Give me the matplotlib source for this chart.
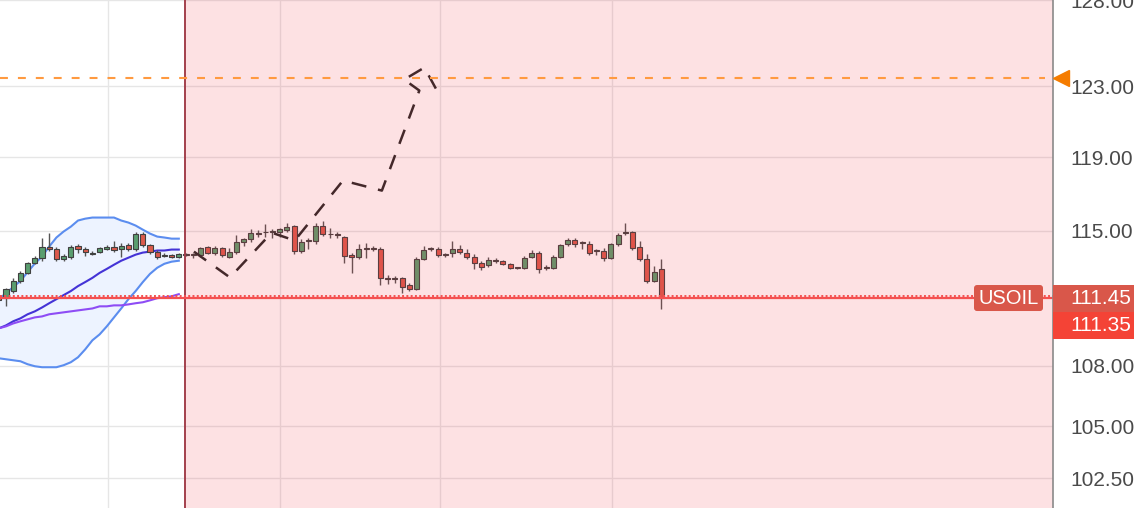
import numpy as np
import matplotlib
matplotlib.use('Agg')
import matplotlib.pyplot as plt
from matplotlib.patches import Rectangle, FancyBboxPatch
from matplotlib.transforms import IdentityTransform, blended_transform_factory, offset_copy
import matplotlib.ticker as mticker

plt.rcParams['font.family'] = ['Liberation Sans', 'DejaVu Sans']

# ---------------- data ----------------
opens = [111.52, 111.47, 111.83, 112.36, 112.78, 113.30, 113.56, 114.15, 114.04, 113.51,
         113.61, 114.20, 114.04, 113.77, 113.88, 114.04, 114.15, 114.04, 114.25, 114.04,
         114.84, 114.25, 113.88, 113.67, 113.72, 113.61, 113.77, 113.77, 113.72, 114.15,
         113.83, 114.09, 113.61, 113.88, 114.41, 114.57, 114.89, 114.92, 114.97, 114.95,
         115.05, 115.27, 113.93, 114.47, 114.47, 115.27, 114.81, 114.81, 114.68, 113.72,
         113.61, 114.04, 114.09, 114.04, 112.49, 112.44, 112.47, 112.15, 111.94, 113.51,
         114.01, 114.04, 113.69, 113.83, 114.04, 113.83, 113.61, 113.30, 113.19, 113.46,
         113.40, 113.25, 113.06, 113.04, 113.61, 113.83, 113.04, 113.04, 113.61, 114.31,
         114.52, 114.36, 114.31, 113.91, 113.93, 113.56, 114.31, 114.89, 114.95, 114.15,
         113.51, 112.36, 112.99]
highs = [111.62, 111.99, 112.47, 112.88, 113.35, 113.67, 114.63, 114.89, 114.15, 113.77,
         114.25, 114.31, 114.15, 113.93, 114.15, 114.25, 114.47, 114.36, 114.36, 114.95,
         114.95, 114.31, 113.99, 113.83, 113.77, 113.83, 113.83, 113.83, 114.15, 114.20,
         114.20, 114.15, 114.09, 114.79, 114.63, 115.11, 115.05, 115.375, 115.11, 115.16,
         115.43, 115.32, 114.57, 114.63, 115.43, 115.535, 115.16, 114.95, 114.73, 113.83,
         114.31, 114.36, 114.20, 114.15, 112.67, 112.62, 112.57, 112.25, 113.61, 114.20,
         114.15, 114.15, 113.83, 114.47, 114.25, 114.04, 113.77, 113.40, 113.61, 113.56,
         113.46, 113.30, 113.09, 113.67, 113.99, 113.93, 113.19, 113.72, 114.31, 114.63,
         114.63, 114.47, 114.47, 114.04, 114.09, 114.36, 114.89, 115.43, 115.00, 114.47,
         113.77, 113.14, 113.51]
lows = [111.26, 111.06, 111.73, 112.25, 112.72, 113.25, 113.40, 113.93, 113.40, 113.40,
        113.51, 113.83, 113.67, 113.72, 113.83, 113.99, 113.88, 113.61, 113.93, 113.93,
        114.15, 113.77, 113.51, 113.61, 113.56, 113.56, 113.67, 113.56, 113.61, 113.77,
        113.72, 113.61, 113.56, 113.77, 114.20, 114.41, 114.68, 114.68, 114.63, 114.68,
        114.95, 113.77, 113.83, 114.04, 114.31, 114.73, 114.63, 114.63, 113.30, 112.78,
        113.51, 113.56, 113.93, 112.15, 112.20, 112.25, 111.73, 111.83, 111.89, 113.46,
        113.93, 113.61, 113.61, 113.61, 113.77, 113.51, 112.99, 112.93, 113.09, 113.30,
        113.19, 112.99, 112.99, 112.99, 113.56, 112.78, 112.93, 112.99, 113.56, 114.20,
        114.15, 114.04, 113.72, 113.72, 113.40, 113.51, 114.20, 114.79, 113.99, 113.40,
        112.25, 112.30, 110.90]
closes = [111.37, 111.94, 112.36, 112.78, 113.30, 113.56, 114.15, 114.04, 113.51, 113.67,
          114.15, 114.04, 113.88, 113.83, 114.09, 114.15, 113.99, 114.20, 114.04, 114.84,
          114.25, 113.88, 113.61, 113.72, 113.61, 113.77, 113.72, 113.72, 114.09, 113.83,
          114.09, 113.72, 113.88, 114.41, 114.57, 114.89, 114.84, 114.95, 114.92, 115.11,
          115.21, 113.93, 114.41, 114.52, 115.27, 114.84, 114.84, 114.76, 113.67, 113.61,
          114.04, 114.09, 114.04, 112.47, 112.44, 112.49, 112.04, 111.94, 113.51, 113.99,
          114.07, 113.72, 113.75, 114.04, 113.88, 113.61, 113.30, 113.09, 113.46, 113.40,
          113.25, 113.04, 113.01, 113.56, 113.83, 112.99, 113.09, 113.61, 114.25, 114.52,
          114.31, 114.39, 113.83, 113.96, 113.56, 114.31, 114.79, 114.95, 114.09, 113.51,
          112.36, 112.83, 111.45]

bb_upper = [111.39, 111.70, 112.02, 112.34, 112.80, 113.25, 113.62, 114.15, 114.63, 114.95,
            115.21, 115.54, 115.64, 115.70, 115.70, 115.70, 115.70, 115.54, 115.43, 115.27,
            115.05, 114.84, 114.68, 114.63, 114.57, 114.57]
bb_middle = [109.89, 110.04, 110.25, 110.40, 110.61, 110.76, 110.96, 111.18, 111.39, 111.60,
             111.81, 112.07, 112.28, 112.50, 112.76, 112.97, 113.19, 113.40, 113.56, 113.72,
             113.83, 113.88, 113.94, 113.94, 113.99, 113.99]
bb_lower = [108.37, 108.32, 108.27, 108.22, 108.07, 107.97, 107.92, 107.92, 107.92, 108.02,
            108.17, 108.42, 108.82, 109.28, 109.58, 109.99, 110.45, 110.91, 111.39, 111.81,
            112.28, 112.71, 113.03, 113.24, 113.35, 113.40]
ma_slow = [109.89, 109.99, 110.14, 110.25, 110.35, 110.45, 110.50, 110.61, 110.66, 110.71,
           110.76, 110.81, 110.86, 110.91, 111.02, 111.02, 111.07, 111.07, 111.12, 111.18,
           111.23, 111.33, 111.44, 111.49, 111.54, 111.65]

path_t = [27.1, 32.1, 37.9, 41.1, 47.8, 53.2, 58.4, 56.3, 59.1, 60.7]
path_p = [113.88, 112.52, 114.89, 114.47, 117.71, 117.16, 122.74, 123.37, 124.06, 122.85]

alert_level = 123.48
last_price = 111.45
bid_price = 111.35
symbol = 'USOIL'
price_ticks = [102.5, 105.0, 108.0, 115.0, 119.0, 123.0, 128.0]
time_grid = [15.2, 39.1, 61.3, 85.2]
shade_start = 25.86
x_range = (0.167, 146.4)
y_range = (101.08, 128.02)

# ---------------- figure ----------------
W, H = 1134, 508
fig = plt.figure(figsize=(W / 100, H / 100), dpi=100)
fig.patch.set_facecolor('white')
ax = fig.add_axes([0, 0, 1053 / W, 1])
ax.set_facecolor('white')
ax.set_yscale('log')
ax.set_xlim(*x_range)
ax.set_ylim(*y_range)

# grid / ticks
ax.set_yticks(price_ticks)
ax.yaxis.set_minor_locator(mticker.NullLocator())
ax.set_yticklabels([f'{v:.2f}' for v in price_ticks])
ax.yaxis.tick_right()
ax.set_xticks(time_grid)
ax.tick_params(axis='x', length=0, labelbottom=False)
ax.tick_params(axis='y', length=0, pad=12.2, labelsize=15, labelcolor='#4a4a4a')
ax.grid(True, color='#e6e6e6', lw=1.0)
ax.set_axisbelow(True)
for s in ['top', 'left', 'bottom']:
    ax.spines[s].set_visible(False)
ax.spines['right'].set_color('#8a8a8a')
ax.spines['right'].set_linewidth(1.2)
ax.spines['right'].set_zorder(10)

# bollinger bands
kb = np.arange(len(bb_upper))
ax.fill_between(kb, bb_lower, bb_upper, color='#edf3ff', lw=0, zorder=1)
ax.plot(kb, bb_upper, color='#5b8def', lw=1.5, zorder=2)
ax.plot(kb, bb_lower, color='#5b8def', lw=1.5, zorder=2)
ax.plot(kb, bb_middle, color='#4433d6', lw=1.5, zorder=2)
ax.plot(kb, ma_slow, color='#8e4cf5', lw=1.5, zorder=2)

# candles
o = np.array(opens); h = np.array(highs); l = np.array(lows); c = np.array(closes)
x = np.arange(len(o))
up = c >= o
cols = np.where(up, '#5a9e6f', '#dc5a4c')
ax.vlines(x, l, h, color='#555555', lw=1.0, zorder=3)
ax.bar(x, np.maximum(np.abs(c - o), 0.02), bottom=np.minimum(o, c), width=0.7,
       color=cols, edgecolor='#404040', linewidth=0.8, zorder=4)

# forecast path
ax.plot(path_t, path_p, color='#262626', lw=1.8, linestyle=(0, (6, 4.8)),
        dash_capstyle='butt', zorder=5)

# shaded range
ax.axvspan(shade_start, x_range[1], color='#f23645', alpha=0.15, lw=0, zorder=6)
ax.axvline(shade_start, color='#a3404c', lw=1.4, zorder=7)

# alert level
ax.axhline(alert_level, xmax=0.992, color='#ff9a40', lw=1.5,
           linestyle=(0, (3.8, 4.8)), zorder=8)
ax.plot([1.0076], [alert_level], marker='<', ms=11, color='#f57c00',
        transform=blended_transform_factory(ax.transAxes, ax.transData),
        clip_on=False, zorder=11)

# last price line
ax.axhline(last_price, color='#f45050', lw=1.6, zorder=8)
ax.plot([0, 1], [last_price, last_price], color='#f45050', lw=1.4,
        linestyle=(0, (1, 1.2)),
        transform=offset_copy(blended_transform_factory(ax.transAxes, ax.transData),
                              fig=fig, y=2, units='dots'),
        zorder=8)

# price labels
idt = IdentityTransform()
yd = ax.transData.transform((1, last_price))[1]
fig.add_artist(Rectangle((1053, yd - 13.5), 81, 27, transform=idt,
                         facecolor='#d9574a', edgecolor='none', zorder=20))
fig.text(1070, yd, f'{last_price:.2f}', transform=idt, ha='left', va='center',
         color='white', fontsize=15, zorder=21)
fig.add_artist(Rectangle((1053, yd - 40.5), 81, 27, transform=idt,
                         facecolor='#f44336', edgecolor='none', zorder=20))
fig.text(1070, yd - 27, f'{bid_price:.2f}', transform=idt, ha='left', va='center',
         color='white', fontsize=15, zorder=21)
fig.add_artist(FancyBboxPatch((974, yd - 13), 69, 26, transform=idt,
                              boxstyle='round,pad=0,rounding_size=3',
                              facecolor='#d9574a', edgecolor='none', zorder=20))
fig.text(1008.5, yd, symbol, transform=idt, ha='center', va='center',
         color='white', fontsize=14.5, zorder=21)

fig.savefig('out.png', dpi=100, facecolor='white')
